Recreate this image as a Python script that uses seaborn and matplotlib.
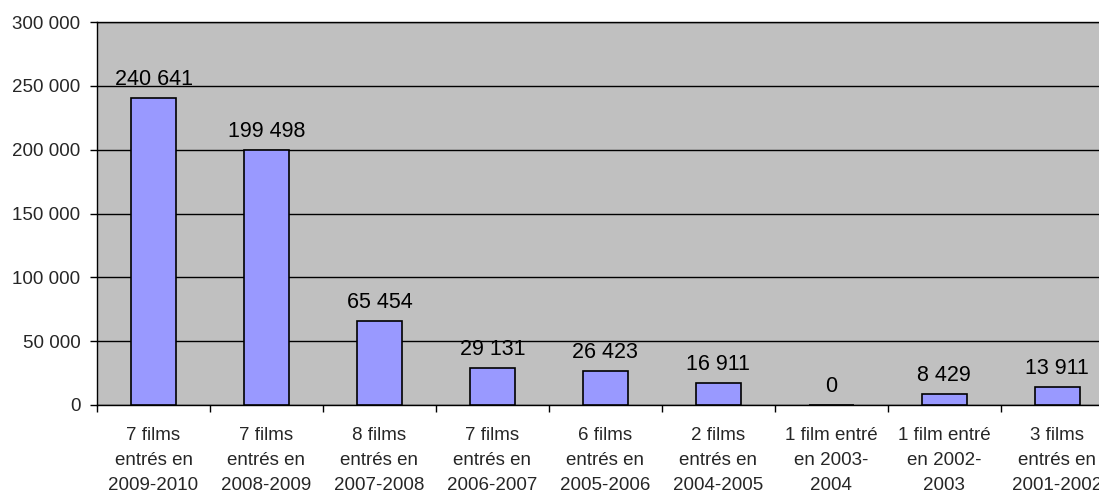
import matplotlib
matplotlib.use("Agg")
import matplotlib.pyplot as plt
import matplotlib.ticker as mticker
import seaborn as sns
import pandas as pd

categories = [
    "7 films\nentrés en\n2009-2010",
    "7 films\nentrés en\n2008-2009",
    "8 films\nentrés en\n2007-2008",
    "7 films\nentrés en\n2006-2007",
    "6 films\nentrés en\n2005-2006",
    "2 films\nentrés en\n2004-2005",
    "1 film entré\nen 2003-\n2004",
    "1 film entré\nen 2002-\n2003",
    "3 films\nentrés en\n2001-2002",
]
entries = [240641, 199498, 65454, 29131, 26423, 16911, 0, 8429, 13911]
y_ticks = [0, 50000, 100000, 150000, 200000, 250000, 300000]

df = pd.DataFrame({"cat": categories, "val": entries})

sns.set_style("white")
plt.rcParams["font.family"] = ["Liberation Sans", "DejaVu Sans"]

fig = plt.figure(figsize=(10.99, 4.96), dpi=100)
ax = fig.add_axes([0.0883, 0.1835, 0.925, 0.772])
ax.set_facecolor("#C0C0C0")

sns.barplot(data=df, x="cat", y="val", color="#9999FF", saturation=1,
            width=0.4, edgecolor="black", linewidth=1.2, ax=ax, zorder=3)

ax.set_xlim(-0.5, len(categories) - 0.5)
ax.set_ylim(0, 300000)
ax.set_yticks(y_ticks)
ax.yaxis.set_major_formatter(
    mticker.FuncFormatter(lambda v, p: f"{int(v):,}".replace(",", " ")))
ax.grid(axis="y", color="black", linewidth=1, zorder=1)
ax.set_axisbelow(True)

# category ticks at the boundaries between bars
ax.set_xticks([i - 0.5 for i in range(len(categories) + 1)], minor=True)
ax.tick_params(axis="x", which="minor", length=5, width=1, color="black",
               direction="out", bottom=True)
ax.tick_params(axis="x", which="major", length=0, pad=15.5, labelsize=13.5)
ax.tick_params(axis="y", which="major", length=5, width=1, color="black",
               direction="out", left=True, pad=7, labelsize=13.5)
for lbl in ax.get_xticklabels():
    lbl.set_linespacing(1.62)

for s in ["left", "bottom", "top", "right"]:
    ax.spines[s].set_color("black")
    ax.spines[s].set_linewidth(1)

ax.set_xlabel("")
ax.set_ylabel("")

for i, v in enumerate(entries):
    ax.annotate(f"{v:,}".replace(",", " "), xy=(i, v), xytext=(0, 9.5),
                textcoords="offset points", ha="center", va="baseline",
                fontsize=15.5, color="black")

fig.savefig("out.png", dpi=100)
